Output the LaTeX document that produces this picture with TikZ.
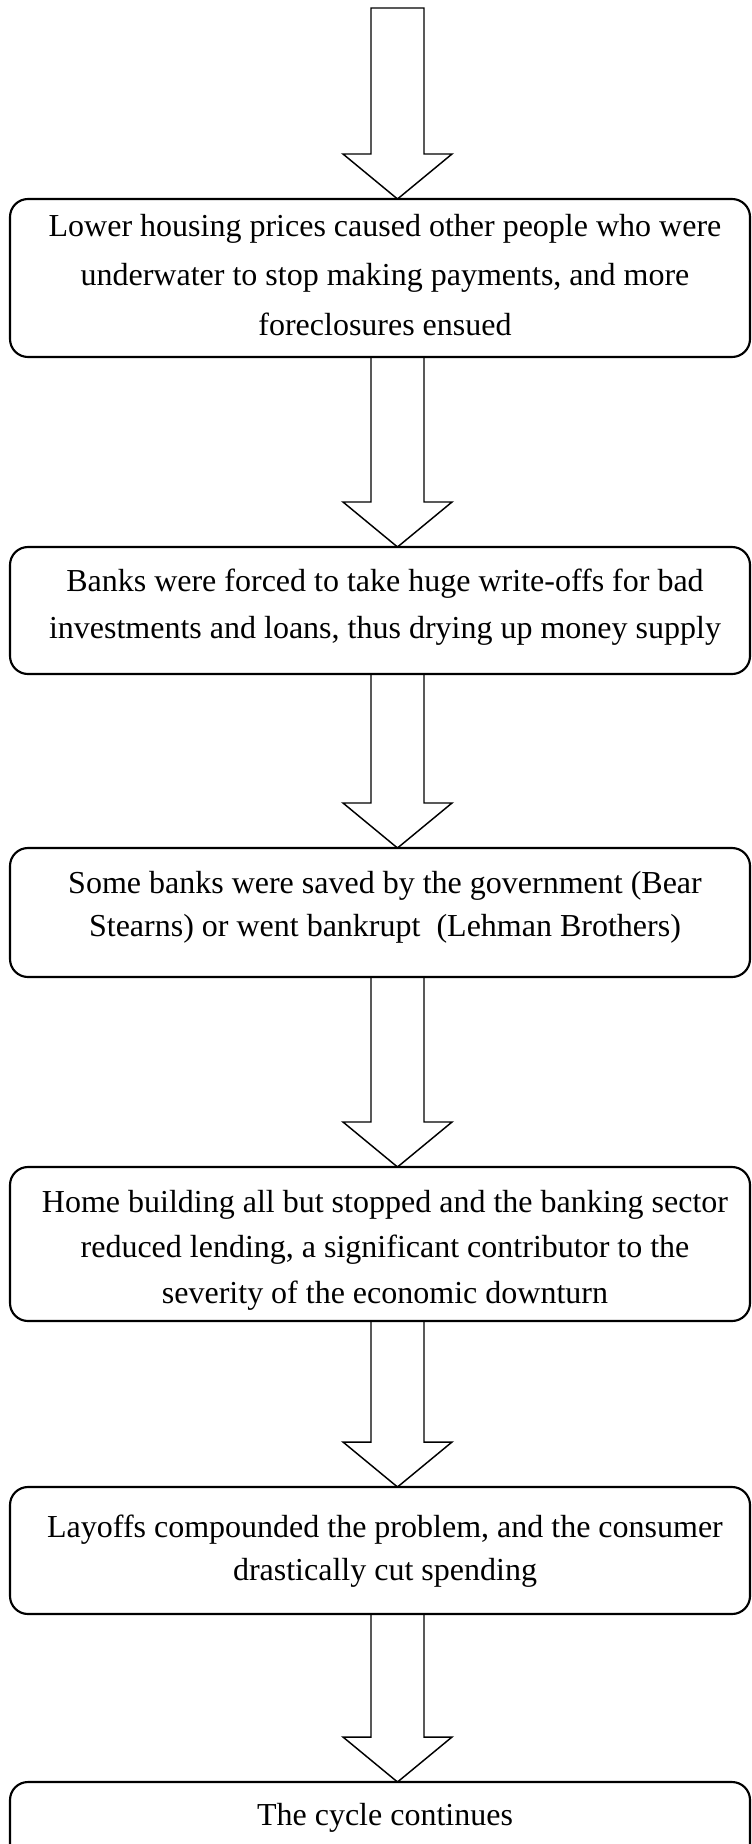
\documentclass[tikz,border=0pt]{standalone}
\usepackage{fontspec}
\setmainfont{Liberation Serif}
\usetikzlibrary{calc,positioning}
\tikzstyle{flowBox} = [draw, line width=1.6pt, rounded corners=13.5pt, minimum width=555pt, inner sep=0pt, outer sep=0pt]
\tikzstyle{blockArrow} = [line width=1.1pt, line join=miter]
\tikzset{boxText/.style={inner sep=0pt, align=center, xshift=3.75pt, font=\fontsize{24pt}{#1}\selectfont}}

\begin{document}
\begin{tikzpicture}[x=0.75pt,y=-0.75pt]
  \fill[white,use as bounding box] (0,0) rectangle (751,1844);
  \clip (0,0) rectangle (751,1844);
  \coordinate (top) at (397.5,8);
  % boxes
  \node[flowBox, minimum height=118.5pt] (b1) at (380,278) {};
  \node[flowBox, minimum height=95.25pt] (b2) at (380,610.5) {};
  \node[flowBox, minimum height=96.75pt] (b3) at (380,912.5) {};
  \node[flowBox, minimum height=115.5pt] (b4) at (380,1244) {};
  \node[flowBox, minimum height=95.25pt] (b5) at (380,1550.5) {};
  \node[flowBox, minimum height=97.5pt] (b6) at (380,1847) {};
  % texts
  \node[boxText=37pt, below=11.25pt of b1.north] (t1) {Lower housing prices caused other people who were\\underwater to stop making payments, and more\\foreclosures ensued};
  \node[boxText=35.25pt, below=16.5pt of b2.north] (t2) {Banks were forced to take huge write-offs for bad\\investments and loans, thus drying up money supply};
  \node[boxText=32.5pt, below=17.25pt of b3.north] (t3) {Some banks were saved by the government (Bear\\Stearns) or went bankrupt~ (Lehman Brothers)};
  \node[boxText=34.1pt, below=17.25pt of b4.north] (t4) {Home building all but stopped and the banking sector\\reduced lending, a significant contributor to the\\severity of the economic downturn};
  \node[boxText=32pt, below=21pt of b5.north] (t5) {Layoffs compounded the problem, and the consumer\\drastically cut spending};
  \node[boxText=32pt, below=15.75pt of b6.north] (t6) {The cycle continues};
  % arrows
  \foreach \from/\to in {top/b1,b1/b2,b2/b3,b3/b4,b4/b5,b5/b6}
    \draw[blockArrow] ($(\from.south -| top)+(-26.5,0)$) -- ($(\to.north -| top)+(-26.5,-45)$) -- ++(-28,0)
      -- (\to.north -| top) -- ($(\to.north -| top)+(54.5,-45)$) -- ++(-28,0) -- ($(\from.south -| top)+(26.5,0)$) -- cycle;
\end{tikzpicture}
\end{document}
